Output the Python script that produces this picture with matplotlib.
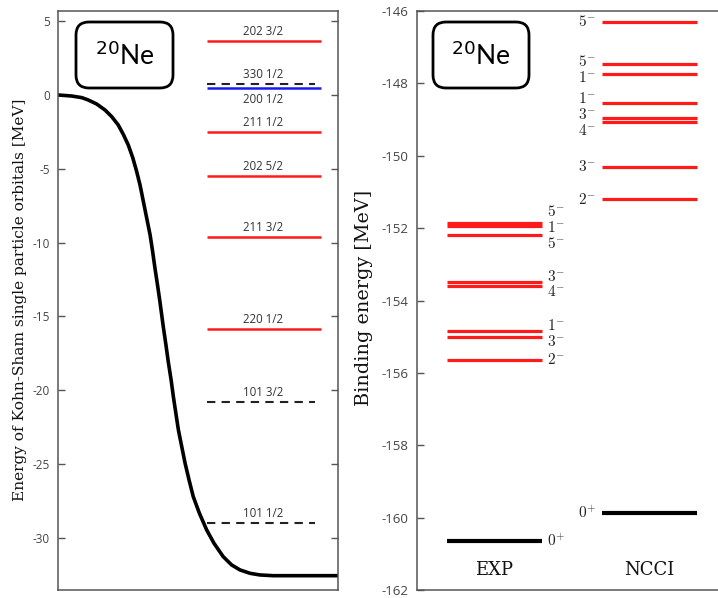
import matplotlib
matplotlib.use("Agg")
import matplotlib.pyplot as plt
from matplotlib.patches import FancyBboxPatch

plt.rcParams['axes.unicode_minus'] = False

# ---------------- data: left panel (Kohn-Sham orbitals) ----------------
pot_x = [0.0, 0.049, 0.085, 0.108, 0.138, 0.168, 0.192, 0.215, 0.233, 0.251,
         0.267, 0.281, 0.293, 0.305, 0.317, 0.329, 0.338, 0.346, 0.356, 0.364,
         0.370, 0.376, 0.386, 0.394, 0.404, 0.412, 0.421, 0.430, 0.442, 0.454,
         0.468, 0.483, 0.505, 0.531, 0.557, 0.590, 0.620, 0.650, 0.686, 0.721,
         0.769, 0.829, 1.0]
pot_y = [0.00, -0.07, -0.18, -0.34, -0.61, -1.02, -1.47, -2.03, -2.66, -3.39,
         -4.25, -5.19, -6.10, -7.23, -8.36, -9.49, -10.61, -11.70, -12.95, -14.00,
         -14.85, -15.70, -17.00, -18.10, -19.31, -20.44, -21.57, -22.70, -23.83,
         -24.96, -26.08, -27.21, -28.34, -29.47, -30.37, -31.28, -31.84, -32.18,
         -32.41, -32.52, -32.57, -32.57, -32.57]

orb_labels = ["202 3/2", "330 1/2", "200 1/2", "211 1/2", "202 5/2",
              "211 3/2", "220 1/2", "101 3/2", "101 1/2"]
orb_energy = [3.68, 0.72, 0.45, -2.53, -5.47, -9.64, -15.85, -20.8, -29.0]
orb_kind = ["red", "dash", "blue", "red", "red", "red", "red", "dash", "dash"]
left_ticks = [5, 0, -5, -10, -15, -20, -25, -30]

# ---------------- data: right panel (binding energies) ----------------
exp_energy = [-151.86, -151.93, -152.19, -153.48, -153.61, -154.84, -155.00,
              -155.64, -160.64]
exp_labels = ["5^{-}", "1^{-}", "5^{-}", "3^{-}", "4^{-}", "1^{-}", "3^{-}",
              "2^{-}", "0^{+}"]
ncci_energy = [-146.30, -147.47, -147.74, -148.55, -148.97, -149.06, -150.31,
               -151.20, -159.86]
ncci_labels = ["5^{-}", "5^{-}", "1^{-}", "1^{-}", "3^{-}", "4^{-}", "3^{-}",
               "2^{-}", "0^{+}"]
columns = ["EXP", "NCCI"]
right_ticks = [-146, -148, -150, -152, -154, -156, -158, -160, -162]

W, H = 718, 598
fig = plt.figure(figsize=(W / 100, H / 100), dpi=100)
renderer = fig.canvas.get_renderer()

SPINE = "#555555"
TICKC = "#444444"
RED = "#ff1a1a"


def spread(values, gap):
    """place label positions so neighbouring labels keep at least `gap`"""
    order = sorted(range(len(values)), key=lambda i: -values[i])
    groups = [[i] for i in order]
    changed = True
    while changed:
        changed = False
        pos = []
        for g in groups:
            m = sum(values[i] for i in g) / len(g)
            pos.append(m + gap * (len(g) - 1) / 2)
        for k in range(len(groups) - 1):
            bottom_k = pos[k] - gap * (len(groups[k]) - 1)
            if bottom_k - pos[k + 1] < gap:
                groups[k] = groups[k] + groups[k + 1]
                del groups[k + 1]
                changed = True
                break
    out = [0.0] * len(values)
    for g in groups:
        m = sum(values[i] for i in g) / len(g)
        top = m + gap * (len(g) - 1) / 2
        for j, i in enumerate(g):
            out[i] = top - j * gap
    return out


def fit_vertical(t, target_px):
    for _ in range(3):
        h = t.get_window_extent(renderer).height
        t.set_fontsize(t.get_fontsize() * target_px / h)


# ---------------- left axes ----------------
axL = fig.add_axes([58 / W, 8 / H, 280 / W, 579 / H])
axL.plot(pot_x, pot_y, color="black", lw=2.6, solid_joinstyle="round")
for lab, e, kind in zip(orb_labels, orb_energy, orb_kind):
    if kind == "dash":
        axL.hlines(e, 0.531, 0.918, colors="#222222", lw=1.5,
                   linestyles=(0, (4, 3)))
    else:
        axL.hlines(e, 0.531, 0.939, colors=RED if kind == "red" else "#1a1aee",
                   lw=1.8)
    if kind == "blue":
        axL.annotate(lab, (0.732, e), xytext=(0, -3.5), textcoords="offset points",
                     ha="center", va="top", fontsize=8.3, color="#333333",
                     family="Open Sans")
    else:
        axL.annotate(lab, (0.732, e), xytext=(0, 2.2), textcoords="offset points",
                     ha="center", va="bottom", fontsize=8.3, color="#333333",
                     family="Open Sans")
axL.set_xlim(0, 1)
axL.set_ylim(-33.54, 5.69)
axL.set_xticks([])
axL.set_yticks(left_ticks)
axL.set_yticklabels([str(t) for t in left_ticks], family="Open Sans",
                    fontsize=8.5, color=TICKC)
axL.tick_params(axis="y", direction="in", length=5, width=1, color=SPINE,
                right=True, pad=6)
for s in axL.spines.values():
    s.set_color(SPINE)
    s.set_linewidth(1.1)

tl = fig.text(20 / W, 1 - 300 / H,
              "Energy of Kohn-Sham single particle orbitals [MeV]",
              rotation=90, ha="center", va="center", fontsize=10.5,
              family="DejaVu Serif", color="#111111")
fit_vertical(tl, 402)

# ---------------- right axes ----------------
axR = fig.add_axes([416.7 / W, 8 / H, 310 / W, 579 / H])
xcent = [1, 2]
hw = 0.306
exp_pos = spread(exp_energy, 0.44)
ncci_pos = spread(ncci_energy, 0.44)
for e, lab, p in zip(exp_energy, exp_labels, exp_pos):
    gs = lab.startswith("0")
    axR.hlines(e, xcent[0] - hw, xcent[0] + hw, colors="black" if gs else RED,
               lw=3.0 if gs else 2.3)
    axR.annotate("$" + lab + "$", (xcent[0] + hw, p), xytext=(4, 0),
                 textcoords="offset points", ha="left", va="center",
                 fontsize=11, math_fontfamily="cm", color="#222222")
for e, lab, p in zip(ncci_energy, ncci_labels, ncci_pos):
    gs = lab.startswith("0")
    axR.hlines(e, xcent[1] - hw, xcent[1] + hw, colors="black" if gs else RED,
               lw=3.0 if gs else 2.3)
    axR.annotate("$" + lab + "$", (xcent[1] - hw, p), xytext=(-4, 0),
                 textcoords="offset points", ha="right", va="center",
                 fontsize=11, math_fontfamily="cm", color="#222222")
for xc, name in zip(xcent, columns):
    axR.text(xc, -161.45, name, ha="center", va="center", fontsize=13,
             family="DejaVu Serif", color="#111111")
axR.set_xlim(0.5, 2.5)
axR.set_ylim(-162, -146)
axR.set_xticks([])
axR.set_yticks(right_ticks)
axR.set_yticklabels([str(t) for t in right_ticks], family="Open Sans",
                    fontsize=9.5, color=TICKC)
axR.tick_params(axis="y", direction="in", length=5, width=1, color=SPINE,
                right=True, pad=6)
for s in axR.spines.values():
    s.set_color(SPINE)
    s.set_linewidth(1.1)

tr = fig.text(364 / W, 1 - 298 / H, "Binding energy [MeV]", rotation=90,
              ha="center", va="center", fontsize=14.6, family="DejaVu Serif",
              color="#111111")
fit_vertical(tr, 216)

# ---------------- 20Ne boxes ----------------
for x0, x1 in [(76, 173), (433, 529)]:
    box = FancyBboxPatch((x0 / 100, (H - 88) / 100), (x1 - x0) / 100, 0.66,
                         boxstyle="round,pad=0,rounding_size=0.13",
                         transform=fig.dpi_scale_trans, fill=True,
                         facecolor="white", edgecolor="black", lw=2.0,
                         zorder=5)
    fig.patches.append(box)
    fig.text((x0 + x1) / 2 / W, 1 - 56 / H, r"$^{20}$Ne", ha="center",
             va="center", fontsize=19, family="Lato",
             math_fontfamily="dejavusans", zorder=6)

fig.savefig("out.png", dpi=100)
